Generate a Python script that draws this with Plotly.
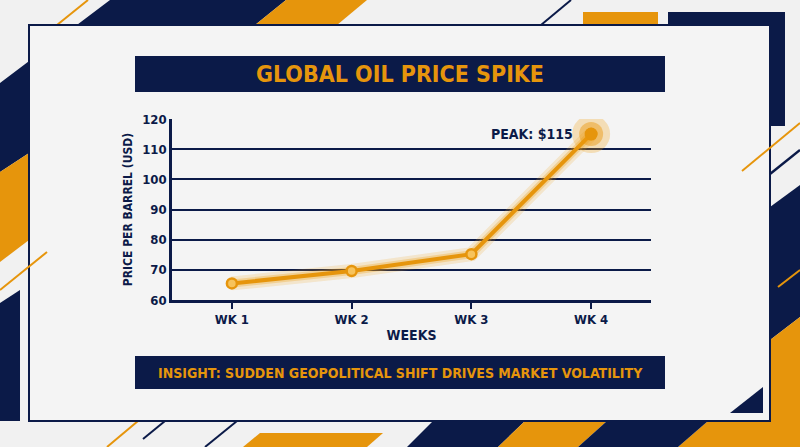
import plotly.graph_objects as go

W, H = 800, 447
NAVY = "#0b1a48"
ORANGE = "#e6950c"
BG = "#f1f1f1"
PANEL = "#f4f4f4"
FONT = "DejaVu Sans Condensed, Roboto, sans-serif"

# données
weeks = ["WK 1", "WK 2", "WK 3", "WK 4"]
prices = [65.5, 69.6, 75.2, 115]
y_ticks = [60, 70, 80, 90, 100, 110, 120]
peak_label = "PEAK: $115"


def px(x, y):
    # pixels -> coordonnées papier (marges nulles)
    return x / W, 1 - y / H


def poly(points, color, layer="below"):
    path = "M " + " L ".join("%.5f %.5f" % px(x, y) for x, y in points) + " Z"
    return dict(type="path", xref="paper", yref="paper", path=path,
                fillcolor=color, line=dict(width=0), layer=layer)


def seg(x0, y0, x1, y1, color, width=2, layer="below"):
    a, b = px(x0, y0)
    c, d = px(x1, y1)
    return dict(type="line", xref="paper", yref="paper", x0=a, y0=b, x1=c, y1=d,
                line=dict(color=color, width=width), layer=layer)


def rect(x0, y0, x1, y1, color, line=None, layer="below"):
    a, b = px(x0, y1)
    c, d = px(x1, y0)
    return dict(type="rect", xref="paper", yref="paper", x0=a, y0=b, x1=c, y1=d,
                fillcolor=color, line=line or dict(width=0), layer=layer)


shapes = [
    # décor arrière-plan
    poly([(110, 0), (286, 0), (255, 25), (200, 100), (29, 153), (0, 172), (0, 83)], NAVY),
    poly([(286, 0), (367, 0), (337, 25), (255, 25)], ORANGE),
    poly([(29, 153), (0, 172), (0, 262), (29, 240)], ORANGE),
    poly([(0, 303), (20, 290), (20, 421), (0, 421)], NAVY),
    seg(88, 0, 57, 25, ORANGE),
    seg(571, 0, 541, 25, NAVY),
    rect(583, 12, 658, 25, ORANGE),
    rect(668, 12, 785, 25, NAVY),
    rect(770, 12, 785, 126, NAVY),
    seg(770, 174, 800, 150, NAVY, 2.5),
    poly([(770, 207), (800, 185), (800, 317), (770, 340)], NAVY),
    seg(778, 287, 800, 270, ORANGE),
    poly([(770, 340), (800, 317), (800, 447), (678, 447), (708, 421), (770, 421)], ORANGE),
    poly([(433, 421), (525, 421), (498, 447), (407, 447)], NAVY),
    poly([(525, 421), (607, 421), (578, 447), (498, 447)], ORANGE),
    poly([(607, 421), (708, 421), (678, 447), (578, 447)], NAVY),
    seg(138, 421, 107, 447, ORANGE),
    seg(165, 421, 143, 439, NAVY),
    seg(237, 421, 205, 447, NAVY),
    poly([(260, 433), (383, 433), (367, 447), (243, 447)], ORANGE),
    # panneau principal
    rect(29, 25, 770, 421, PANEL, line=dict(color=NAVY, width=2)),
    poly([(730, 413), (763, 413), (763, 387)], NAVY),
    seg(0, 290, 47, 252, ORANGE),
    seg(742, 171, 800, 123, ORANGE),
    # bandeaux titre / insight
    rect(135, 56, 665, 92, NAVY),
    rect(135, 356, 665, 389, NAVY),
]

fig = go.Figure()

# halo autour de la courbe
fig.add_trace(go.Scatter(x=weeks, y=prices, mode="lines",
                         line=dict(color="rgba(240,160,20,0.18)", width=14),
                         hoverinfo="skip"))
fig.add_trace(go.Scatter(x=weeks, y=prices, mode="lines",
                         line=dict(color="rgba(240,160,20,0.30)", width=8),
                         hoverinfo="skip"))
fig.add_trace(go.Scatter(x=weeks, y=prices, mode="lines+markers",
                         line=dict(color=ORANGE, width=4),
                         marker=dict(size=10, color="#f7c35c",
                                     line=dict(color=ORANGE, width=2.5))))
# point du pic
fig.add_trace(go.Scatter(x=weeks[-1:], y=prices[-1:], mode="markers",
                         marker=dict(size=38, color="rgba(240,160,20,0.28)"),
                         hoverinfo="skip"))
fig.add_trace(go.Scatter(x=weeks[-1:], y=prices[-1:], mode="markers",
                         marker=dict(size=24, color="rgba(236,150,12,0.45)"),
                         hoverinfo="skip"))
fig.add_trace(go.Scatter(x=weeks[-1:], y=prices[-1:], mode="markers",
                         marker=dict(size=13, color=ORANGE),
                         hoverinfo="skip"))

fig.add_annotation(x=weeks[-1], y=prices[-1], text=peak_label,
                   showarrow=False, xanchor="right", xshift=-16, yshift=0,
                   font=dict(family=FONT, size=14, color=NAVY, weight="bold"))
fig.add_annotation(x=0.5, y=px(0, 74)[1], xref="paper", yref="paper",
                   xanchor="center", yanchor="middle",
                   text="GLOBAL OIL PRICE SPIKE", showarrow=False,
                   font=dict(family=FONT, size=23, color=ORANGE, weight="bold"))
fig.add_annotation(x=0.5, y=px(0, 373)[1], xref="paper", yref="paper",
                   xanchor="center", yanchor="middle",
                   text="INSIGHT: SUDDEN GEOPOLITICAL SHIFT DRIVES MARKET VOLATILITY",
                   showarrow=False, font=dict(family=FONT, size=14, color=ORANGE, weight="bold"))

fig.update_layout(
    width=W, height=H,
    margin=dict(l=0, r=0, t=0, b=0, pad=0, autoexpand=False),
    paper_bgcolor=BG, plot_bgcolor="rgba(0,0,0,0)",
    showlegend=False,
    shapes=shapes,
    font=dict(family=FONT, color=NAVY),
)
fig.update_xaxes(
    domain=[172 / W, 651 / W], range=[-0.5, 3.5], automargin=False,
    showgrid=False, showline=True, linecolor=NAVY, linewidth=2.5,
    ticks="outside", ticklen=6, tickwidth=2, tickcolor=NAVY,
    tickfont=dict(family=FONT, size=13, color=NAVY, weight="bold"),
    title=dict(text="WEEKS", font=dict(family=FONT, size=14, color=NAVY, weight="bold"), standoff=4),
)
fig.update_yaxes(
    domain=[1 - 300 / H, 1 - 119 / H], range=[60, 120], automargin=False,
    tickvals=y_ticks, showgrid=True, gridcolor=NAVY, gridwidth=1.5,
    showline=True, linecolor=NAVY, linewidth=2.5, zeroline=False,
    tickfont=dict(family=FONT, size=13, color=NAVY, weight="bold"),
    title=dict(text="PRICE PER BARREL (USD)", font=dict(family=FONT, size=12, color=NAVY, weight="bold"), standoff=8),
)

# page sans marge pour que la figure occupe toute la fenêtre
fig.write_html("out.html", config={"displayModeBar": False},
               post_script="document.body.style.margin='0';document.body.style.overflow='hidden';")
